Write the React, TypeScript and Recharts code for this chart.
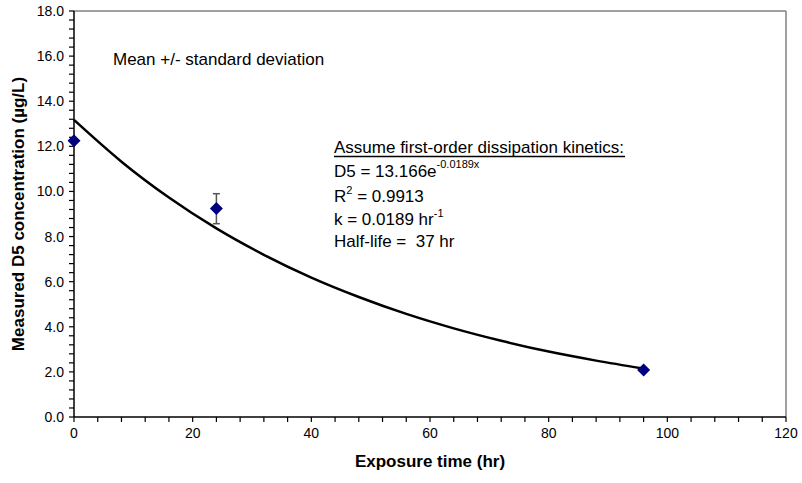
import React from 'react';
import { ComposedChart, Line, Scatter, ErrorBar, XAxis, YAxis, ReferenceLine } from 'recharts';

// measured means (with std-dev error at 24 hr)
const hours = [0, 24, 96];
const measured = [12.25, 9.24, 2.08];
const errLow = [0, 0.67, 0];
const errHigh = [0, 0.66, 0];

// fitted first-order curve
const fitHours = [0, 8, 16, 24, 32, 40, 48, 56, 64, 72, 80, 88, 96];
const fitValues = [13.17, 11.32, 9.73, 8.36, 7.19, 6.18, 5.32, 4.57, 3.93, 3.38, 2.9, 2.5, 2.15];

const xMajorTicks = [0, 20, 40, 60, 80, 100, 120];
const yMajorTicks = [0, 2, 4, 6, 8, 10, 12, 14, 16, 18];

// minor ticks: 5 divisions between majors
const xTicks: number[] = [];
for (let i = 0; i <= 30; i++) xTicks.push(i * 4);
const yTicks: number[] = [];
for (let i = 0; i <= 45; i++) yTicks.push(Math.round(i * 4) / 10);

const pointData = hours.map((h, i) => ({ x: h, y: measured[i], err: [errLow[i], errHigh[i]] }));
const fitData = fitHours.map((h, i) => ({ x: h, y: fitValues[i] }));

const FONT = '"Liberation Sans", Arial, sans-serif';

const Diamond = (props: any) => {
  const { cx, cy } = props;
  if (cx == null || cy == null) return null;
  const r = 6.5;
  return (
    <polygon
      points={`${cx},${cy - r} ${cx + r},${cy} ${cx},${cy + r} ${cx - r},${cy}`}
      fill="#000080"
    />
  );
};

export default function App() {
  const tickStyle = { fontSize: 14, fill: '#000', fontFamily: FONT };
  return (
    <div style={{ position: 'absolute', left: 0, top: 0, width: 802, height: 483, background: '#fff' }}>
      <ComposedChart width={802} height={483} margin={{ top: 11, right: 16, left: 0, bottom: 0 }}>
        <XAxis
          type="number"
          dataKey="x"
          domain={[0, 120]}
          ticks={xTicks}
          interval={0}
          height={66}
          tickSize={5}
          tickMargin={6}
          axisLine={{ stroke: '#000', strokeWidth: 1.5 }}
          tickLine={{ stroke: '#000', strokeWidth: 1.2 }}
          tick={tickStyle}
          tickFormatter={(v: number) => (xMajorTicks.includes(v) ? String(v) : '')}
        />
        <YAxis
          type="number"
          domain={[0, 18]}
          ticks={yTicks}
          interval={0}
          width={74}
          tickSize={5}
          tickMargin={5}
          axisLine={{ stroke: '#000', strokeWidth: 1.5 }}
          tickLine={{ stroke: '#000', strokeWidth: 1.2 }}
          tick={tickStyle}
          tickFormatter={(v: number) =>
            yMajorTicks.some((m) => Math.abs(m - v) < 1e-6) ? v.toFixed(1) : ''
          }
        />
        <ReferenceLine y={18} stroke="#808080" strokeWidth={1.5} />
        <ReferenceLine x={120} stroke="#808080" strokeWidth={1.5} />
        <Line
          data={fitData}
          dataKey="y"
          type="monotone"
          stroke="#000"
          strokeWidth={2.5}
          dot={false}
          activeDot={false}
          isAnimationActive={false}
        />
        <Scatter data={pointData} dataKey="y" shape={<Diamond />} isAnimationActive={false}>
          <ErrorBar dataKey="err" direction="y" width={3.5} stroke="#555" strokeWidth={1.5} isAnimationActive={false} />
        </Scatter>
      </ComposedChart>
      <svg
        width={802}
        height={483}
        style={{ position: 'absolute', left: 0, top: 0, pointerEvents: 'none' }}
        fontFamily={FONT}
      >
        <text x={113} y={65} fontSize={17} fill="#000">Mean +/- standard deviation</text>
        <g fontSize={17} fill="#000">
          <text x={334} y={153}>Assume first-order dissipation kinetics:</text>
          <line x1={334} y1={156.5} x2={625} y2={156.5} stroke="#000" strokeWidth={1.5} />
          <text x={334} y={177}>
            D5 = 13.166e<tspan fontSize={11} dy={-9}>-0.0189x</tspan>
          </text>
          <text x={334} y={202}>
            R<tspan fontSize={11} dy={-8}>2</tspan>
            <tspan dy={8}> = 0.9913</tspan>
          </text>
          <text x={334} y={225}>
            k = 0.0189 hr<tspan fontSize={11} dy={-8}>-1</tspan>
          </text>
          <text x={334} y={247}>{'Half-life = \u00a037 hr'}</text>
        </g>
        <text x={430} y={467} fontSize={17} fontWeight="bold" textAnchor="middle" fill="#000">
          Exposure time (hr)
        </text>
        <text
          x={18}
          y={214}
          fontSize={17}
          fontWeight="bold"
          textAnchor="middle"
          dominantBaseline="central"
          transform="rotate(-90 18 214)"
          fill="#000"
        >
          Measured D5 concentration (µg/L)
        </text>
      </svg>
    </div>
  );
}
